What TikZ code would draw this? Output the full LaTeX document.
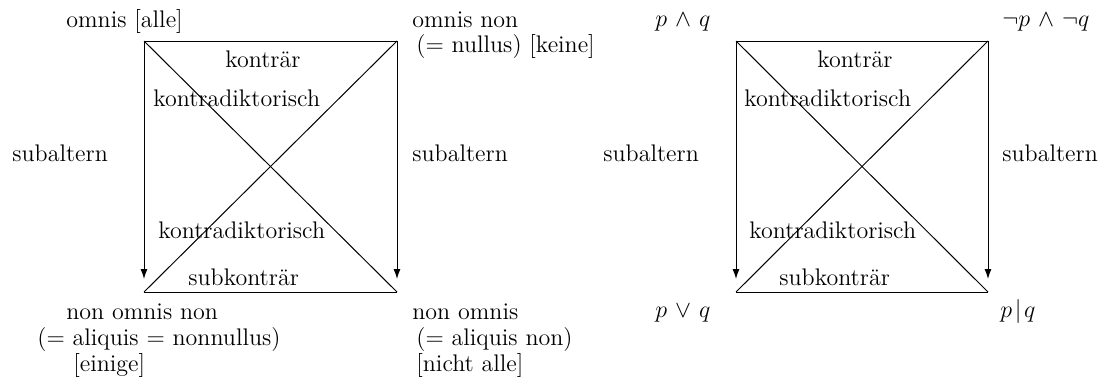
\documentclass[tikz,border=0pt]{standalone}
\usetikzlibrary{arrows.meta}
\begin{document}
\begin{tikzpicture}[x=0.5pt,y=-0.5pt,
  lbl/.style={anchor=base west,inner sep=0pt,font=\fontsize{12pt}{13pt}\selectfont},
  multi/.style={lbl,align=left},
  mlbl/.style={anchor=base west,inner sep=0pt,font=\fontsize{12.5pt}{15pt}\selectfont},
  edge/.style={line width=0.5pt},
  subarrow/.style={edge,-{Latex[length=5pt,width=3.5pt]},shorten >=6.5pt}]
\useasboundingbox (0,0) rectangle (1098,380);
% corners
\coordinate (aTL) at (144,41);
\coordinate (aTR) at (397,41);
\coordinate (aBL) at (144,292);
\coordinate (aBR) at (397,292);
\coordinate (bTL) at (736,41);
\coordinate (bTR) at (988,41);
\coordinate (bBL) at (736,292);
\coordinate (bBR) at (988,292);
% left square
\draw[edge] (aTL) -- (aTR);
\draw[edge] (aBL) -- (aBR);
\draw[edge] (aTL) -- (aBR);
\draw[edge] (aBL) -- (aTR);
\draw[subarrow] (aTL) -- (aBL);
\draw[subarrow] (aTR) -- (aBR);
% right square
\draw[edge] (bTL) -- (bTR);
\draw[edge] (bBL) -- (bBR);
\draw[edge] (bTL) -- (bBR);
\draw[edge] (bBL) -- (bTR);
\draw[subarrow] (bTL) -- (bBL);
\draw[subarrow] (bTR) -- (bBR);
% left labels (multi-line nodes: base = last line)
\node[lbl] (omnis) at (66,27) {omnis [alle]};
\node[multi] (omnisnon) at (412,53) {omnis non\\\hspace*{2pt}(= nullus) [keine]};
\node[multi] (nonomnisnon) at (37,371) {\hspace*{14.5pt}non omnis non\\(= aliquis = nonnullus)\\\hspace*{18pt}[einige]};
\node[multi] (nonomnis) at (412,371) {non omnis\\\hspace*{2pt}(= aliquis non)\\\hspace*{2pt}[nicht alle]};
\node[lbl] (akontr) at (225,67) {konträr};
\node[lbl] (akd1) at (153,106) {kontradiktorisch};
\node[lbl] (akd2) at (158,238) {kontradiktorisch};
\node[lbl] (asubk) at (188,285) {subkonträr};
\node[lbl] (asubL) at (12,161) {subaltern};
\node[lbl] (asubR) at (412,161) {subaltern};
% right labels
\node[mlbl] (pq) at (655,26) {$p\mkern2mu\wedge\mkern2mu q$};
\node[mlbl] (npnq) at (1002,26) {$\neg p\mkern2mu\wedge\mkern2mu\neg q$};
\node[mlbl] (pvq) at (655,317) {$p\mkern2mu\vee\mkern2mu q$};
\node[mlbl] (pbq) at (1000,317) {$p\mkern2mu|\mkern2mu q$};
\node[lbl] (bkontr) at (817,67) {konträr};
\node[lbl] (bkd1) at (744,106) {kontradiktorisch};
\node[lbl] (bkd2) at (749,238) {kontradiktorisch};
\node[lbl] (bsubk) at (779,285) {subkonträr};
\node[lbl] (bsubL) at (603,161) {subaltern};
\node[lbl] (bsubR) at (1002,161) {subaltern};
\end{tikzpicture}
\end{document}
